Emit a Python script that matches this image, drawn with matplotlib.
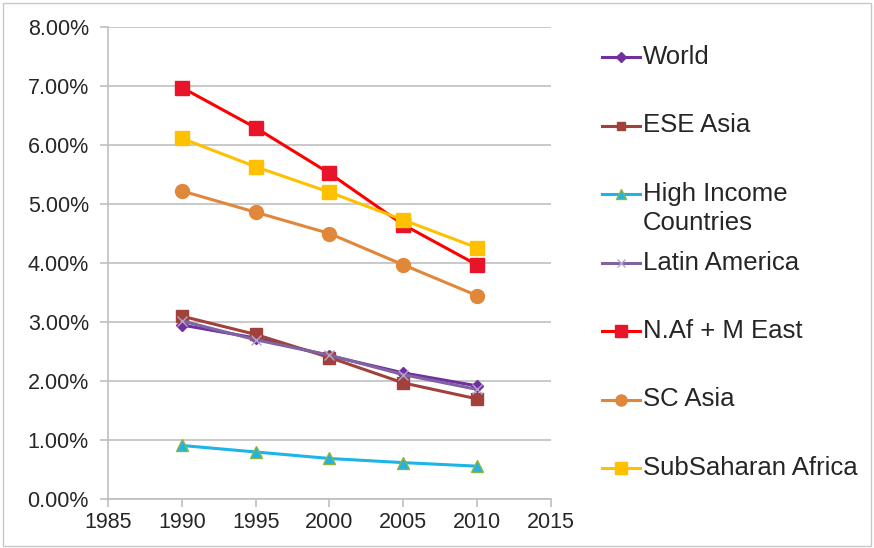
import matplotlib
matplotlib.use("Agg")
import matplotlib.pyplot as plt
from matplotlib.ticker import FuncFormatter
from matplotlib.patches import Rectangle
from matplotlib.lines import Line2D

# --------------------------------------------
# Data (share)
# --------------------------------------------
years = [1990, 1995, 2000, 2005, 2010]

world = [2.95, 2.73, 2.43, 2.14, 1.92]
ese_asia = [3.10, 2.79, 2.40, 1.97, 1.70]
high_income = [0.91, 0.80, 0.69, 0.62, 0.56]
latin_america = [3.02, 2.70, 2.44, 2.11, 1.86]
naf_meast = [6.97, 6.29, 5.52, 4.65, 3.97]
sc_asia = [5.22, 4.86, 4.50, 3.97, 3.45]
subsaharan = [6.11, 5.63, 5.20, 4.73, 4.26]

series_names = ["World", "ESE Asia", "High Income\nCountries", "Latin America",
                "N.Af + M East", "SC Asia", "SubSaharan Africa"]

y_ticks = [0, 1, 2, 3, 4, 5, 6, 7, 8]
x_ticks = [1985, 1990, 1995, 2000, 2005, 2010, 2015]

plt.rcParams['font.family'] = ['Liberation Sans', 'DejaVu Sans']

W, H = 874, 548
fig = plt.figure(figsize=(W / 100, H / 100), dpi=100)
ax = fig.add_axes([0.124, 0.089, 0.506, 0.862])

# outer frame of the chart area
fig.patches.append(Rectangle((0.004, 0.004), 0.992, 0.99, transform=fig.transFigure,
                             fill=False, edgecolor="#c8c8c8", linewidth=1))

styles = [
    (world, "#7030A0", "D", 6, "#7030A0", "#7030A0"),
    (ese_asia, "#A0413C", "s", 8, "#A0413C", "#A0413C"),
    (high_income, "#1DB4E8", "^", 9, "#1DB4E8", "#8DB43C"),
    (latin_america, "#8064A2", "x", 7, "#8064A2", "#B4A5CC"),
    (naf_meast, "#FF0000", "s", 10, "#E8142A", "#E8142A"),
    (sc_asia, "#E0873A", "o", 10, "#E0873A", "#E0873A"),
    (subsaharan, "#FFC000", "s", 10, "#FFC000", "#FFC000"),
]

for (vals, color, marker, ms, mfc, mec), name in zip(styles, series_names):
    ax.plot(years, vals, color=color, linewidth=2.2, marker=marker, markersize=ms,
            markerfacecolor=mfc, markeredgecolor=mec, label=name)

ax.set_xlim(1985, 2015)
ax.set_ylim(0, 8)
ax.set_xticks(x_ticks)
ax.set_yticks(y_ticks)
ax.yaxis.set_major_formatter(FuncFormatter(lambda v, p: f"{v:.2f}%"))

ax.grid(axis="y", color="#c0c0c0", linewidth=1.2)
ax.set_axisbelow(True)
for side in ["top", "right"]:
    ax.spines[side].set_visible(False)
for side in ["left", "bottom"]:
    ax.spines[side].set_color("#bfbfbf")
    ax.spines[side].set_linewidth(1.2)
ax.tick_params(axis="both", colors="#bfbfbf", length=6, width=1.2, labelsize=15.5,
               labelcolor="#262626")
ax.tick_params(axis="y", pad=8)

# --------------------------------------------
# Legend (Excel style: fixed step between entries)
# --------------------------------------------
leg_top = 57        # px from top, first entry
leg_step = 68.5     # px between entries
line_gap = 29       # px between lines of a wrapped label
hx0, hx1, tx = 602, 640, 643

for i, ((vals, color, marker, ms, mfc, mec), name) in enumerate(zip(styles, series_names)):
    yc = 1 - (leg_top + i * leg_step) / H
    fig.add_artist(Line2D([hx0 / W, hx1 / W], [yc, yc], transform=fig.transFigure,
                          color=color, linewidth=2.2))
    fig.add_artist(Line2D([(hx0 + hx1) / 2 / W], [yc], transform=fig.transFigure,
                          marker=marker, markersize=ms * 0.8, markerfacecolor=mfc,
                          markeredgecolor=mec, linestyle="none"))
    for j, part in enumerate(name.split("\n")):
        fig.text(tx / W, yc - j * line_gap / H, part, fontsize=18.5, color="#262626",
                 va="center")

fig.savefig("out.png", dpi=100)
